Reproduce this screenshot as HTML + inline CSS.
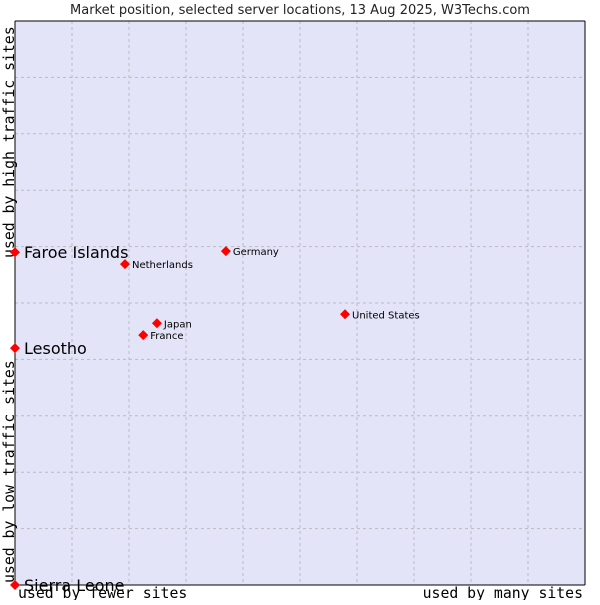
<!DOCTYPE html>
<html><head><meta charset="utf-8"><style>
body{margin:0;background:#fff;}
svg text{font-family:"DejaVu Sans","Liberation Sans",sans-serif;}
</style></head><body>
<svg id="chart" width="600" height="600">
<text x="300" y="14" text-anchor="middle" font-size="13" fill="#222">Market position, selected server locations, 13 Aug 2025, W3Techs.com</text>
<rect x="15" y="21" width="570" height="564" fill="#e3e4f8"/>
<g id="grid"></g>
<line x1="15" y1="21" x2="585" y2="21" stroke="#000"/>
<line x1="15" y1="21" x2="15" y2="585" stroke="#000"/>
<line x1="15" y1="585" x2="585" y2="585" stroke="#000"/>
<line x1="585" y1="21" x2="585" y2="585" stroke="#000"/>
<text x="18" y="598" style="font-family:'DejaVu Sans Mono','Liberation Mono',monospace" font-size="14.8" fill="#000">used by fewer sites</text>
<text x="583" y="598" text-anchor="end" style="font-family:'DejaVu Sans Mono','Liberation Mono',monospace" font-size="14.8" fill="#000">used by many sites</text>
<text transform="translate(14,583) rotate(-90)" style="font-family:'DejaVu Sans Mono','Liberation Mono',monospace" font-size="14.8" fill="#000">used by low traffic sites</text>
<text transform="translate(14,258) rotate(-90)" style="font-family:'DejaVu Sans Mono','Liberation Mono',monospace" font-size="14.8" fill="#000">used by high traffic sites</text>
<g id="points"></g>
</svg>
<script>
const names=["Faroe Islands","Lesotho","Sierra Leone","Netherlands","Germany","Japan","France","United States"];
const xValues=[0,0,0,19.3,37,24.9,22.5,57.9];
const yValues=[59,42,0,56.9,59.2,46.4,44.3,48];
const bigLabel=[true,true,true,false,false,false,false,false];
const ns="http://www.w3.org/2000/svg";
const X=v=>15+v*5.7, Y=v=>585-v*5.64;
const grid=document.getElementById('grid');
for(let i=1;i<10;i++){
 const l=document.createElementNS(ns,'line');
 l.setAttribute('x1',X(i*10));l.setAttribute('x2',X(i*10));l.setAttribute('y1',21);l.setAttribute('y2',585);
 l.setAttribute('stroke','#bbb');l.setAttribute('stroke-dasharray','3,3');
 
 
 grid.appendChild(l);
 const h=document.createElementNS(ns,'line');
 h.setAttribute('x1',15);h.setAttribute('x2',585);h.setAttribute('y1',Y(i*10));h.setAttribute('y2',Y(i*10));
 h.setAttribute('stroke','#bbb');h.setAttribute('stroke-dasharray','3,3');
 
 
 grid.appendChild(h);
}
const pts=document.getElementById('points');
names.forEach((n,i)=>{
 const x=X(xValues[i]),y=Y(yValues[i]);
 const p=document.createElementNS(ns,'polygon');
 p.setAttribute('points',`${x},${y-5} ${x+5},${y} ${x},${y+5} ${x-5},${y}`);
 p.setAttribute('fill','#f00');
 
 
 pts.appendChild(p);
 const t=document.createElementNS(ns,'text');
 t.setAttribute('x',x+(bigLabel[i]?9:7));
 t.setAttribute('y',y+(bigLabel[i]?6:4));
 t.setAttribute('font-size',bigLabel[i]?16:10);
 t.setAttribute('fill','#000');
 t.textContent=n;
 
 
 pts.appendChild(t);
});
</script>
</body></html>
